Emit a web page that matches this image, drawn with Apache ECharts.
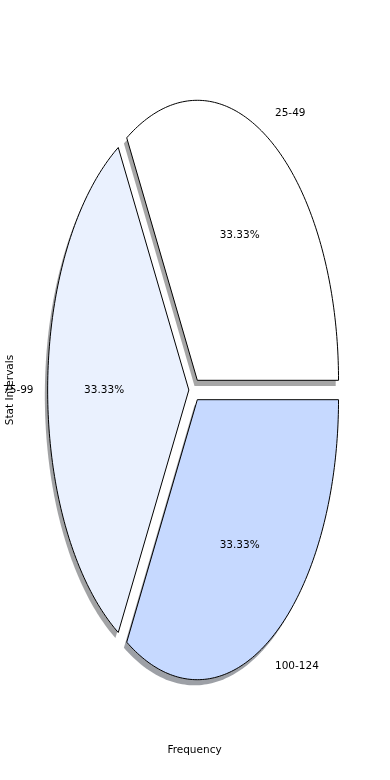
<!DOCTYPE html>
<html>
<head>
<meta charset="utf-8">
<script src="https://cdn.jsdelivr.net/npm/echarts@6/dist/echarts.min.js"></script>
<style>html,body{margin:0;padding:0;background:#fff;}#c{width:390px;height:780px;}</style>
</head>
<body>
<div id="c"></div>
<script>
const categories = ['25-49', '75-99', '100-124'];
const frequencies = [1, 1, 1];
const sliceColors = ['#ffffff', '#eaf1fe', '#c6d9ff'];
const explode = [0.04, 0.04, 0.04];
const xLabel = 'Frequency';
const yLabel = 'Stat Intervals';

const total = frequencies.reduce((a, b) => a + b, 0);
const starts = [];
let acc = 0;
frequencies.forEach(v => { starts.push(acc); acc += v; });

function wedgePoints(api, i, dx, dy) {
  const t1 = starts[i] / total * 2 * Math.PI;
  const t2 = (starts[i] + frequencies[i]) / total * 2 * Math.PI;
  const mid = (t1 + t2) / 2;
  const ox = explode[i] * Math.cos(mid) + dx;
  const oy = explode[i] * Math.sin(mid) + dy;
  const pts = [api.coord([ox, oy])];
  const n = 120;
  for (let k = 0; k <= n; k++) {
    const t = t1 + (t2 - t1) * k / n;
    pts.push(api.coord([ox + Math.cos(t), oy + Math.sin(t)]));
  }
  return pts;
}

function shadowColor(hex) {
  const r = parseInt(hex.substr(1, 2), 16), g = parseInt(hex.substr(3, 2), 16), b = parseInt(hex.substr(5, 2), 16);
  return 'rgba(' + Math.round(r * 0.3) + ',' + Math.round(g * 0.3) + ',' + Math.round(b * 0.3) + ',0.5)';
}

const data = frequencies.map((v, i) => ({ value: [0, 0, v], name: categories[i] }));
const font = 'DejaVu Sans';
const fs = 10.5;

const chart = echarts.init(document.getElementById('c'), null, { renderer: 'canvas' });
chart.setOption({
  animation: false,
  backgroundColor: '#ffffff',
  grid: { left: 18, right: 19, top: 40, bottom: 40, containLabel: false, outerBoundsMode: 'none' },
  xAxis: {
    type: 'value', min: -1.25, max: 1.25,
    axisLine: { show: false }, axisTick: { show: false }, axisLabel: { show: false }, splitLine: { show: false },
    name: xLabel, nameLocation: 'middle', nameGap: 5,
    nameTextStyle: { fontFamily: font, fontSize: fs, color: '#000', verticalAlign: 'top' }
  },
  yAxis: {
    type: 'value', min: -1.25, max: 1.25,
    axisLine: { show: false }, axisTick: { show: false }, axisLabel: { show: false }, splitLine: { show: false },
    name: yLabel, nameLocation: 'middle', nameGap: 2,
    nameTextStyle: { fontFamily: font, fontSize: fs, color: '#000' }
  },
  series: [
    {
      type: 'custom', z: 1, silent: true, data: data,
      renderItem: function (params, api) {
        const i = params.dataIndex;
        return {
          type: 'polygon',
          shape: { points: wedgePoints(api, i, -0.02, -0.02) },
          style: { fill: shadowColor(sliceColors[i]), stroke: null }
        };
      }
    },
    {
      type: 'custom', z: 2, data: data,
      renderItem: function (params, api) {
        const i = params.dataIndex;
        const t1 = starts[i] / total * 2 * Math.PI;
        const t2 = (starts[i] + frequencies[i]) / total * 2 * Math.PI;
        const mid = (t1 + t2) / 2;
        const c = Math.cos(mid), s = Math.sin(mid);
        const e = explode[i];
        const lab = api.coord([(1.1 + e) * c, (1.1 + e) * s]);
        const pct = api.coord([(0.6 + e) * c, (0.6 + e) * s]);
        const v = api.value(2);
        return {
          type: 'group',
          children: [
            {
              type: 'polygon',
              shape: { points: wedgePoints(api, i, 0, 0) },
              style: { fill: sliceColors[i], stroke: '#000', lineWidth: 1 }
            },
            {
              type: 'text', x: lab[0], y: lab[1],
              style: { text: categories[i], fill: '#000', font: fs + 'px "' + font + '"',
                align: c > 0 ? 'left' : 'right', verticalAlign: 'middle' }
            },
            {
              type: 'text', x: pct[0], y: pct[1],
              style: { text: (v / total * 100).toFixed(2) + '%', fill: '#000', font: fs + 'px "' + font + '"',
                align: 'center', verticalAlign: 'middle' }
            }
          ]
        };
      }
    }
  ]
});
</script>
</body>
</html>
